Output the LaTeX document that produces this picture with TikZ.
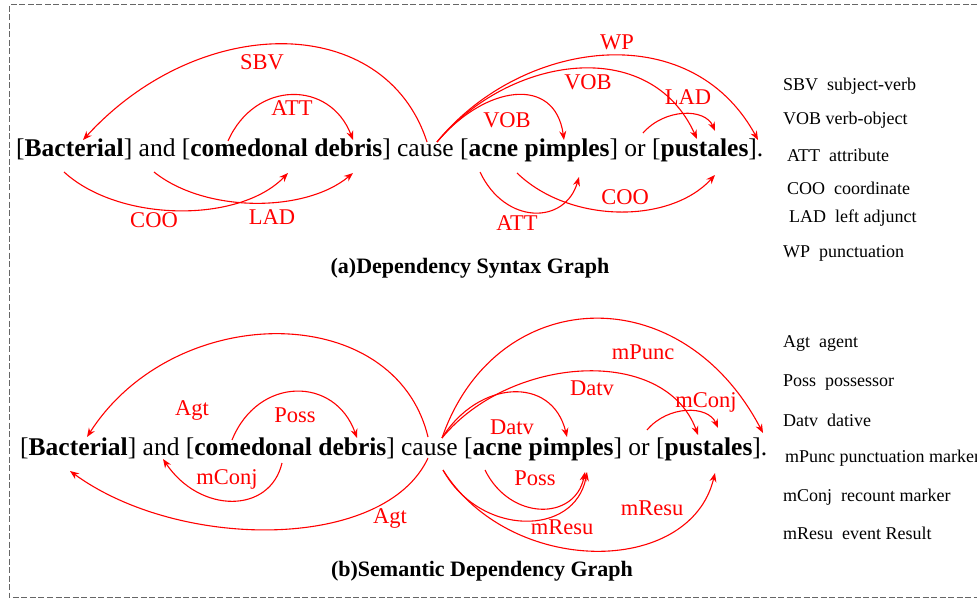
\documentclass[tikz,border=0pt]{standalone}
\usepackage{fontspec}
\setmainfont{Liberation Serif}
\usetikzlibrary{arrows.meta}
\begin{document}
\begin{tikzpicture}[x=1pt,y=-1pt,
  arc/.style={draw=red, line width=1.1pt, -{Stealth[length=9pt,width=7pt]}},
  lab/.style={text=red, font=\fontsize{22.5}{24}\selectfont, inner sep=0pt, anchor=base},
  sent/.style={font=\fontsize{25.5}{28}\selectfont, inner sep=0pt, anchor=base west},
  leg/.style={font=\fontsize{18}{20}\selectfont, inner sep=0pt, anchor=base west},
  ttl/.style={font=\bfseries\fontsize{22}{24}\selectfont, inner sep=0pt, anchor=base},
  frame/.style={draw=black!60, line width=1pt, dash pattern=on 6pt off 2.5pt}]
\useasboundingbox (0,0) rectangle (977,599);
% frame
\coordinate (fTR) at (977,5);
\coordinate (fTL) at (9,5);
\coordinate (fBL) at (9,597);
\coordinate (fBR) at (977,597);
\draw[frame] (fTR) -- (fTL) -- (fBL) -- (fBR);

% ---------------- (a) ----------------
\node[sent] (sa) at (16,157) {[\textbf{Bacterial}] and [\textbf{comedonal debris}] cause [\textbf{acne pimples}] or [\textbf{pustales}].};
\node[ttl] (ta) at (470,273) {(a)Dependency Syntax Graph};

\coordinate (aSBVs) at (427,142); \coordinate (aSBVe) at (83,140);
\coordinate (aATTs) at (228,141); \coordinate (aATTe) at (353,140);
\coordinate (aCOOs) at (64,172);  \coordinate (aCOOe) at (288,173);
\coordinate (aLADs) at (154,172); \coordinate (aLADe) at (353,173);
\coordinate (aC)    at (437,142);
\coordinate (aVOBe) at (564,140); \coordinate (aVOB2e) at (697,139);
\coordinate (aWPe)  at (758,140);
\coordinate (aLAD2s) at (643,133); \coordinate (aLAD2e) at (715,131);
\coordinate (aATT2s) at (480,172); \coordinate (aATT2e) at (579,177);
\coordinate (aCOO2s) at (517,173); \coordinate (aCOO2e) at (715,175);

\draw[arc] (aSBVs) .. controls (385,12) and (200,12) .. (aSBVe);
\draw[arc] (aATTs) .. controls (255,80) and (330,80) .. (aATTe);
\draw[arc] (aCOOs) .. controls (120,223) and (240,223) .. (aCOOe);
\draw[arc] (aLADs) .. controls (205,213) and (305,213) .. (aLADe);
\draw[arc] (aC) .. controls (485,85) and (555,75) .. (aVOBe);
\draw[arc] (aC) .. controls (510,55) and (650,35) .. (aVOB2e);
\draw[arc] (aC) .. controls (520,40) and (690,15) .. (aWPe);
\draw[arc] (aLAD2s) .. controls (665,108) and (705,108) .. (aLAD2e);
\draw[arc] (aATT2s) .. controls (505,225) and (565,225) .. (aATT2e);
\draw[arc] (aCOO2s) .. controls (570,224) and (670,224) .. (aCOO2e);

\node[lab] (laSBV) at (262,69.5) {SBV};
\node[lab] (laATT) at (292,115.5) {ATT};
\node[lab] (laCOO) at (154,227.5) {COO};
\node[lab] (laLAD) at (272,224.5) {LAD};
\node[lab] (laVOB) at (507,127.5) {VOB};
\node[lab] (laVOB2) at (588,89.5) {VOB};
\node[lab] (laWP) at (617,49.5) {WP};
\node[lab] (laLAD2) at (688,104.5) {LAD};
\node[lab] (laATT2) at (517,230.5) {ATT};
\node[lab] (laCOO2) at (625,204.5) {COO};

\node[leg] (ga1) at (783,91)  {SBV\ \ subject-verb};
\node[leg] (ga2) at (783,125) {VOB verb-object};
\node[leg] (ga3) at (787,161) {ATT\ \ attribute};
\node[leg] (ga4) at (787,194) {COO\ \ coordinate};
\node[leg] (ga5) at (789,222) {LAD\ \ left adjunct};
\node[leg] (ga6) at (783,257) {WP\ \ punctuation};

% ---------------- (b) ----------------
\node[sent] (sb) at (20,455) {[\textbf{Bacterial}] and [\textbf{comedonal debris}] cause [\textbf{acne pimples}] or [\textbf{pustales}].};
\node[ttl] (tb) at (482,576) {(b)Semantic Dependency Graph};

\coordinate (bAGTs) at (428,437); \coordinate (bAGTe) at (87,437);
\coordinate (bPOSs) at (232,440); \coordinate (bPOSe) at (357,438);
\coordinate (bMCs) at (282,463);  \coordinate (bMCe) at (163,459);
\coordinate (bAGT2s) at (428,458); \coordinate (bAGT2e) at (70,471);
\coordinate (bC) at (442,438);
\coordinate (bDATe) at (567,437); \coordinate (bDAT2e) at (698,435);
\coordinate (bMPe) at (763,433);
\coordinate (bMC2s) at (647,430); \coordinate (bMC2e) at (718,428);
\coordinate (bPOS2s) at (485,470); \coordinate (bPOS2e) at (585,472);
\coordinate (bCl) at (443,470);
\coordinate (bMRe) at (587,472); \coordinate (bMR2e) at (715,473);

\draw[arc] (bAGTs) .. controls (395,300) and (175,300) .. (bAGTe);
\draw[arc] (bPOSs) .. controls (258,376) and (335,376) .. (bPOSe);
\draw[arc] (bMCs) .. controls (270,514) and (200,514) .. (bMCe);
\draw[arc] (bAGT2s) .. controls (385,551) and (180,551) .. (bAGT2e);
\draw[arc] (bC) .. controls (478,380) and (552,375) .. (bDATe);
\draw[arc] (bC) .. controls (510,355) and (665,345) .. (bDAT2e);
\draw[arc] (bC) .. controls (495,285) and (680,275) .. (bMPe);
\draw[arc] (bMC2s) .. controls (668,405) and (708,405) .. (bMC2e);
\draw[arc] (bPOS2s) .. controls (510,521) and (575,521) .. (bPOS2e);
\draw[arc] (bCl) .. controls (480,537) and (575,537) .. (bMRe);
\draw[arc] (bCl) .. controls (510,577) and (690,577) .. (bMR2e);

\node[lab] (lbAGT) at (192,415) {Agt};
\node[lab] (lbPOS) at (295,422) {Poss};
\node[lab] (lbMC) at (227,484) {mConj};
\node[lab] (lbAGT2) at (390,523) {Agt};
\node[lab] (lbDAT) at (512,434) {Datv};
\node[lab] (lbDAT2) at (592,395) {Datv};
\node[lab] (lbMP) at (643,359) {mPunc};
\node[lab] (lbMC2) at (706,407) {mConj};
\node[lab] (lbPOS2) at (535,485) {Poss};
\node[lab] (lbMR) at (562,534) {mResu};
\node[lab] (lbMR2) at (652,515) {mResu};

\node[leg] (gb1) at (783,347) {Agt\ \ agent};
\node[leg] (gb2) at (783,386) {Poss\ \ possessor};
\node[leg] (gb3) at (783,426) {Datv\ \ dative};
\node[leg] (gb4) at (785,462) {mPunc punctuation marker};
\node[leg] (gb5) at (783,501) {mConj\ \ recount marker};
\node[leg] (gb6) at (783,539) {mResu\ \ event Result};
\end{tikzpicture}
\end{document}
